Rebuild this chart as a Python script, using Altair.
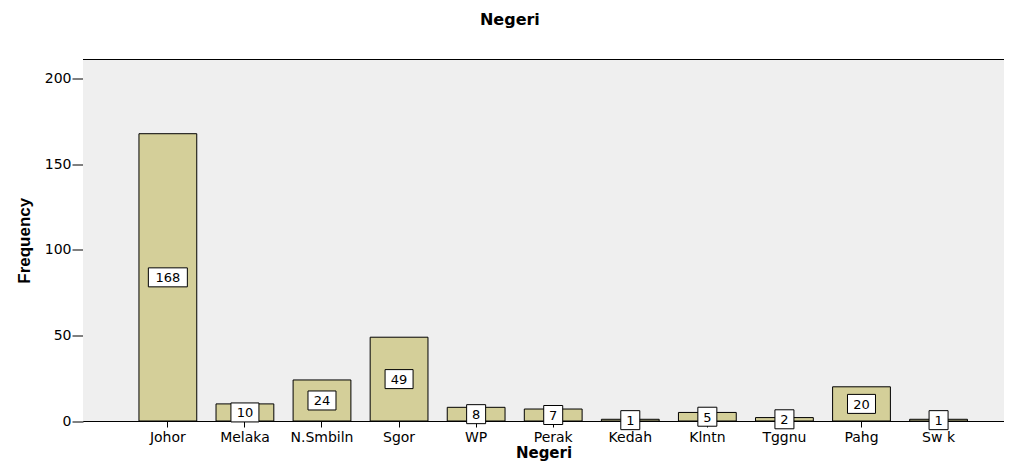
import altair as alt
import pandas as pd

negeri = ["Johor", "Melaka", "N.Smbiln", "Sgor", "WP", "Perak", "Kedah", "Klntn", "Tggnu", "Pahg", "Sw k"]
freq = [168, 10, 24, 49, 8, 7, 1, 5, 2, 20, 1]

df = pd.DataFrame({"Negeri": negeri, "Frequency": freq})
df["half"] = df["Frequency"] / 2
df["digits"] = df["Frequency"].astype(str).str.len()
df["lab"] = df["Frequency"].astype(str)

W, H = 921, 361.5
YMAX = 211.4

bg = alt.Chart(df).mark_rect(color="#efefef").encode(
    x=alt.value(0), x2=alt.value(W), y=alt.value(0), y2=alt.value(H))

xenc = alt.X("Negeri:N", sort=negeri, title="Negeri",
             scale=alt.Scale(paddingInner=0.25, paddingOuter=0.6, align=0.605),
             axis=alt.Axis(labelAngle=0, labelFont="DejaVu Sans", labelFontSize=14,
                           labelColor="black", tickColor="black", tickSize=6,
                           domainColor="black", labelPadding=3,
                           titleFont="DejaVu Sans", titleFontSize=15, titleFontWeight="bold",
                           titleColor="black", titlePadding=1))

bars = alt.Chart(df).mark_bar(color="#d4cf99", stroke="black", strokeWidth=1).encode(
    x=xenc,
    y=alt.Y("Frequency:Q", title="Frequency",
            scale=alt.Scale(domain=[0, YMAX], nice=False),
            axis=alt.Axis(values=[0, 50, 100, 150, 200], grid=False, tickSize=11,
                          tickColor="black", domainColor="black", labelColor="black",
                          labelFont="DejaVu Sans", labelFontSize=14, labelPadding=1,
                          titleFont="Liberation Sans", titleFontSize=17,
                          titleFontWeight="bold", titleColor="black", titlePadding=11)),
)

layers = [bg, bars]
box_w = {1: 19, 2: 28, 3: 39}
box_h = 19
for d, w in box_w.items():
    r = w / 2.0
    hh = (box_h / 2.0) / r
    path = f"M-1,-{hh:.4f}H1V{hh:.4f}H-1Z"
    layers.append(
        alt.Chart(df).transform_filter(alt.datum.digits == d).mark_point(
            shape=path, size=w * w, filled=True, fill="white", stroke="black",
            strokeWidth=1, opacity=1).encode(
            x=alt.X("Negeri:N", sort=negeri),
            y=alt.Y("half:Q"))
    )

texts = alt.Chart(df).mark_text(font="DejaVu Sans", fontSize=13, color="black",
                                baseline="middle", dy=1).encode(
    x=alt.X("Negeri:N", sort=negeri),
    y=alt.Y("half:Q"),
    text="lab:N")
layers.append(texts)

top = alt.Chart(df).mark_rule(color="black", strokeWidth=1).encode(
    x=alt.value(0), x2=alt.value(W), y=alt.value(0))
layers.append(top)

chart = alt.layer(*layers).properties(
    width=W, height=H,
    title=alt.TitleParams("Negeri", font="DejaVu Sans", fontSize=16, fontWeight="bold",
                          color="black", anchor="middle", frame="bounds", offset=31),
    autosize=alt.AutoSizeParams(type="none"),
    padding={"left": 75, "top": 51.5, "right": 0, "bottom": 41},
).configure_view(stroke=None).configure(background="white")

chart.save("out.html", embed_options={"renderer": "svg", "actions": False})
